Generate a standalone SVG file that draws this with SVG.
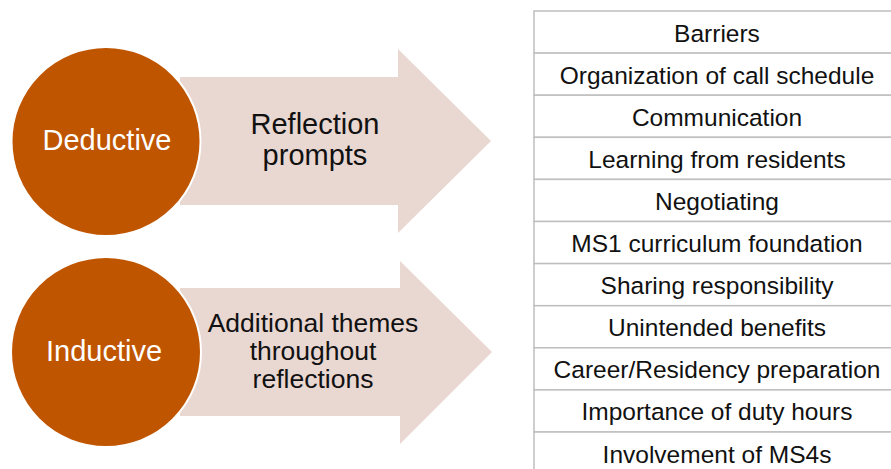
<svg xmlns="http://www.w3.org/2000/svg" width="891" height="469" viewBox="0 0 891 469">
  <style>
    .arrow { fill: #E9D7D1; }
    .circle { fill: #C05500; stroke: #FFFFFF; stroke-width: 2; }
    .ctext { font-family: "Liberation Sans", Arial, sans-serif; font-size: 29px; fill: #FFFFFF; text-anchor: middle; }
    .atext { font-family: "Liberation Sans", Arial, sans-serif; fill: #111111; text-anchor: middle; }
    .cell { fill: #FFFFFF; stroke: #BFBFBF; stroke-width: 1.5; }
    .ttext { font-family: "Liberation Sans", Arial, sans-serif; font-size: 24.5px; fill: #111111; text-anchor: middle; }
  </style>

  <!-- upper block arrow -->
  <g id="arrow-deductive">
    <polygon class="arrow" points="180,77 398,77 398,49 491,141 398,233 398,205 180,205"/>
    <text class="atext" font-size="29" x="315" y="134">Reflection</text>
    <text class="atext" font-size="29" x="315" y="165">prompts</text>
  </g>

  <!-- lower block arrow -->
  <g id="arrow-inductive">
    <polygon class="arrow" points="180,288 400,288 400,261 492,352 400,444 400,416 180,416"/>
    <text class="atext" font-size="26.5" x="313" y="332">Additional themes</text>
    <text class="atext" font-size="26.5" x="313" y="360">throughout</text>
    <text class="atext" font-size="26.5" x="313" y="388">reflections</text>
  </g>

  <g id="node-deductive">
    <circle class="circle" cx="106" cy="141.5" r="94.5"/>
    <text class="ctext" x="107" y="150">Deductive</text>
  </g>

  <g id="node-inductive">
    <circle class="circle" cx="106" cy="352" r="95"/>
    <text class="ctext" x="104" y="361">Inductive</text>
  </g>

  <!-- theme table -->
  <g id="themes">
    <g id="row-1"><rect class="cell" x="534" y="11" width="370" height="42.1"/><text class="ttext" x="717" y="41.5">Barriers</text></g>
    <g id="row-2"><rect class="cell" x="534" y="53.1" width="370" height="42.1"/><text class="ttext" x="717" y="83.6">Organization of call schedule</text></g>
    <g id="row-3"><rect class="cell" x="534" y="95.2" width="370" height="42.1"/><text class="ttext" x="717" y="125.7">Communication</text></g>
    <g id="row-4"><rect class="cell" x="534" y="137.3" width="370" height="42.1"/><text class="ttext" x="717" y="167.8">Learning from residents</text></g>
    <g id="row-5"><rect class="cell" x="534" y="179.4" width="370" height="42.1"/><text class="ttext" x="717" y="209.9">Negotiating</text></g>
    <g id="row-6"><rect class="cell" x="534" y="221.5" width="370" height="42.1"/><text class="ttext" x="717" y="252">MS1 curriculum foundation</text></g>
    <g id="row-7"><rect class="cell" x="534" y="263.6" width="370" height="42.1"/><text class="ttext" x="717" y="294.1">Sharing responsibility</text></g>
    <g id="row-8"><rect class="cell" x="534" y="305.7" width="370" height="42.1"/><text class="ttext" x="717" y="336.2">Unintended benefits</text></g>
    <g id="row-9"><rect class="cell" x="534" y="347.8" width="370" height="42.1"/><text class="ttext" x="717" y="378.3">Career/Residency preparation</text></g>
    <g id="row-10"><rect class="cell" x="534" y="389.9" width="370" height="42.1"/><text class="ttext" x="717" y="420.4">Importance of duty hours</text></g>
    <g id="row-11"><rect class="cell" x="534" y="432" width="370" height="42.1"/><text class="ttext" x="717" y="462.5">Involvement of MS4s</text></g>
  </g>
</svg>
